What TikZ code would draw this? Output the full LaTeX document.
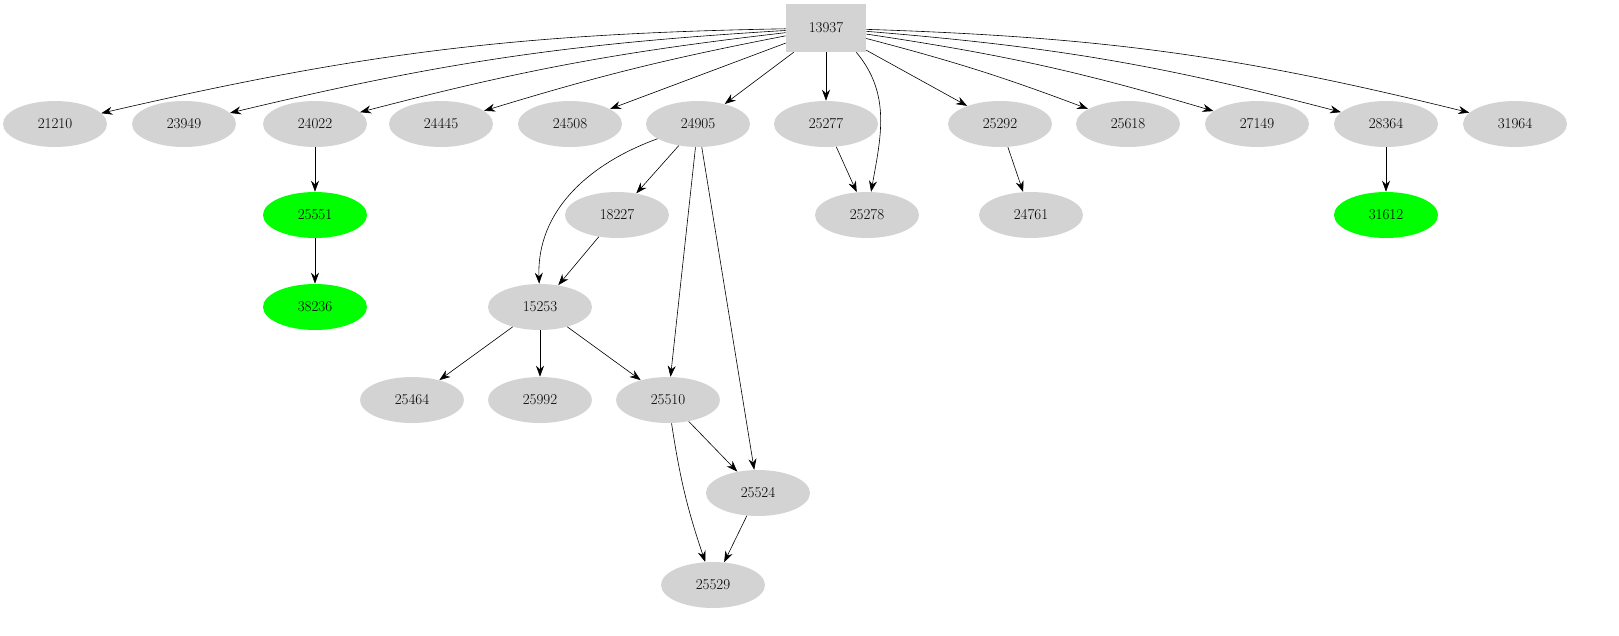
\documentclass[tikz,border=0pt]{standalone}
\usetikzlibrary{arrows.meta,shapes.geometric}
\definecolor{nodegray}{RGB}{211,211,211}
\definecolor{leafgreen}{RGB}{0,255,0}
\tikzset{
  pid/.style={ellipse,fill=nodegray,minimum width=104pt,minimum height=46pt,inner sep=0pt,font=\fontsize{15}{17}\selectfont},
  pidroot/.style={rectangle,fill=nodegray,minimum width=80pt,minimum height=48pt,inner sep=0pt,font=\fontsize{15}{17}\selectfont},
  pidhot/.style={pid,fill=leafgreen},
}
\begin{document}
\begin{tikzpicture}[x=1pt,y=-1pt,->,>={Stealth[length=11pt,width=8pt]},semithick]
        \useasboundingbox (0,0) rectangle (1619,635);
        \node[pidroot] (r) at (826,28) {13937};
        \node[pid] (a1) at (55,124) {21210};
        \node[pid] (a2) at (184,124) {23949};
        \node[pid] (a3) at (315,124) {24022};
        \node[pid] (a4) at (441,124) {24445};
        \node[pid] (a5) at (570,124) {24508};
        \node[pid] (a6) at (698,124) {24905};
        \node[pid] (a7) at (826,124) {25277};
        \node[pid] (a8) at (1000,124) {25292};
        \node[pid] (a9) at (1128,124) {25618};
        \node[pid] (a10) at (1257,124) {27149};
        \node[pid] (a11) at (1386,124) {28364};
        \node[pid] (a12) at (1515,124) {31964};
        \node[pidhot] (b1) at (315,215) {25551};
        \node[pid] (b2) at (617,215) {18227};
        \node[pid] (b3) at (867,215) {25278};
        \node[pid] (b4) at (1031,215) {24761};
        \node[pidhot] (b5) at (1386,215) {31612};
        \node[pidhot] (c1) at (315,307) {38236};
        \node[pid] (c2) at (540,307) {15253};
        \node[pid] (d1) at (412,400) {25464};
        \node[pid] (d2) at (540,400) {25992};
        \node[pid] (d3) at (668,400) {25510};
        \node[pid] (e1) at (758,493) {25524};
        \node[pid] (f1) at (713,585) {25529};

        \path (r) edge[bend right=6] (a1) edge[bend right=5] (a2)
            edge[bend right=4] (a3) edge[bend right=3] (a4)
            edge (a5) edge (a6) edge (a7) edge (a8) edge[bend left=3] (a9)
            edge[bend left=4] (a10) edge[bend left=5] (a11) edge[bend left=6] (a12);
        \path (r.south east) ++(-10,0) coordinate (rs) (rs) edge[out=-50,in=80] (b3);
        \path (a3) edge (b1) (b1) edge (c1)
            (a7) edge (b3) (a8) edge (b4) (a11) edge (b5)
            (a6) edge[out=200,in=92] (c2) edge (b2) edge (d3) edge (e1)
            (b2) edge (c2)
            (c2) edge (d1) edge (d2) edge (d3)
            (d3) edge (e1) edge[bend right=5] (f1)
            (e1) edge (f1);
    \end{tikzpicture}
\end{document}
